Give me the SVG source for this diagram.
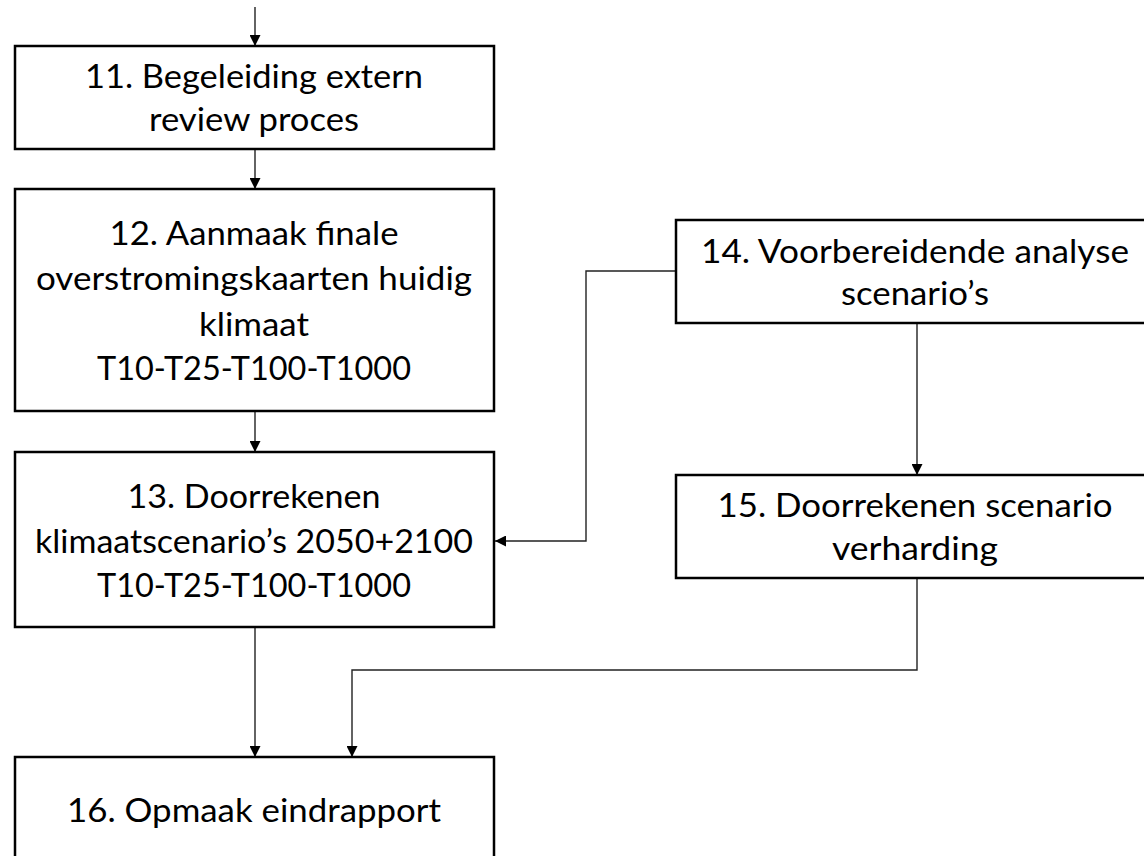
<svg xmlns="http://www.w3.org/2000/svg" width="1144" height="856" viewBox="0 0 1144 856">
<defs>
<marker id="arr" viewBox="0 0 10 10" refX="10" refY="5" markerWidth="11" markerHeight="11" markerUnits="userSpaceOnUse" orient="auto">
<path d="M0,0 L10,5 L0,10 z" fill="#000"/>
</marker>
<style>
.box{fill:#fff;stroke:#000;stroke-width:2.5}
.t{font-family:Lato,"Open Sans","Liberation Sans",sans-serif;font-size:33px;fill:#000;text-anchor:middle}
.c{fill:none;stroke:#222;stroke-width:1.4;marker-end:url(#arr)}
</style>
</defs>
<rect width="1144" height="856" fill="#fff"/>
<g id="connectors">
<path class="c" d="M255,7 L255,46"/>
<path class="c" d="M255,149 L255,189"/>
<path class="c" d="M255,411 L255,452"/>
<path class="c" d="M255,627 L255,757"/>
<path class="c" d="M917,578 L917,670 L352,670 L352,757"/>
<path class="c" d="M676,271 L586,271 L586,541 L495,541"/>
<path class="c" d="M917,323 L917,475"/>
</g>
<g id="n11">
<rect class="box" x="15" y="46" width="479" height="103"/>
<text class="t" x="254" y="88" textLength="338" lengthAdjust="spacingAndGlyphs">11. Begeleiding extern</text>
<text class="t" x="254" y="131" textLength="210" lengthAdjust="spacingAndGlyphs">review proces</text>
</g>
<g id="n12">
<rect class="box" x="15" y="189" width="479" height="222"/>
<text class="t" x="254" y="245" textLength="289" lengthAdjust="spacingAndGlyphs">12. Aanmaak finale</text>
<text class="t" x="254" y="290" textLength="436" lengthAdjust="spacingAndGlyphs">overstromingskaarten huidig</text>
<text class="t" x="254" y="336" textLength="110" lengthAdjust="spacingAndGlyphs">klimaat</text>
<text class="t" x="254" y="380" textLength="314" lengthAdjust="spacingAndGlyphs">T10-T25-T100-T1000</text>
</g>
<g id="n13">
<rect class="box" x="15" y="452" width="479" height="175"/>
<text class="t" x="254" y="508" textLength="253" lengthAdjust="spacingAndGlyphs">13. Doorrekenen</text>
<text class="t" x="254" y="553" textLength="438" lengthAdjust="spacingAndGlyphs">klimaatscenario’s 2050+2100</text>
<text class="t" x="254" y="597" textLength="314" lengthAdjust="spacingAndGlyphs">T10-T25-T100-T1000</text>
</g>
<g id="n14">
<rect class="box" x="676" y="220" width="478" height="103"/>
<text class="t" x="915" y="263" textLength="428" lengthAdjust="spacingAndGlyphs">14. Voorbereidende analyse</text>
<text class="t" x="915" y="305" textLength="148" lengthAdjust="spacingAndGlyphs">scenario’s</text>
</g>
<g id="n15">
<rect class="box" x="676" y="475" width="478" height="103"/>
<text class="t" x="915" y="517" textLength="395" lengthAdjust="spacingAndGlyphs">15. Doorrekenen scenario</text>
<text class="t" x="915" y="560" textLength="166" lengthAdjust="spacingAndGlyphs">verharding</text>
</g>
<g id="n16">
<rect class="box" x="15" y="757" width="479" height="104"/>
<text class="t" x="254" y="822" textLength="374" lengthAdjust="spacingAndGlyphs">16. Opmaak eindrapport</text>
</g>
</svg>
